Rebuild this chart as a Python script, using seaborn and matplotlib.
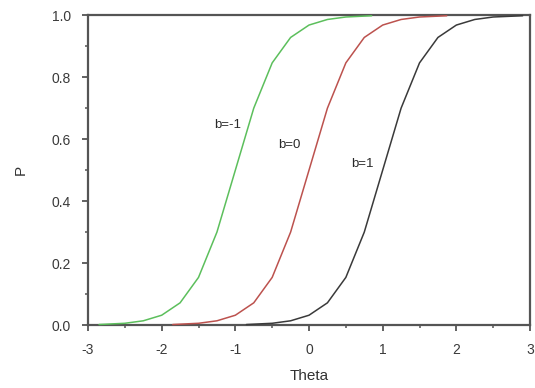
import pandas as pd
import seaborn as sns
import matplotlib.pyplot as plt
from matplotlib.ticker import MultipleLocator

# item characteristic curves
theta_bm1 = [-2.85, -2.5, -2.25, -2.0, -1.75, -1.5, -1.25, -1.0, -0.75, -0.5, -0.25, 0.0, 0.25, 0.5, 0.85]
p_bm1 = [0.002, 0.006, 0.014, 0.032, 0.072, 0.154, 0.30, 0.50, 0.70, 0.846, 0.928, 0.968, 0.986, 0.994, 0.998]

theta_b0 = [-1.85, -1.5, -1.25, -1.0, -0.75, -0.5, -0.25, 0.0, 0.25, 0.5, 0.75, 1.0, 1.25, 1.5, 1.87]
p_b0 = [0.002, 0.006, 0.014, 0.032, 0.072, 0.154, 0.30, 0.50, 0.70, 0.846, 0.928, 0.968, 0.986, 0.994, 0.998]

theta_b1 = [-0.85, -0.5, -0.25, 0.0, 0.25, 0.5, 0.75, 1.0, 1.25, 1.5, 1.75, 2.0, 2.25, 2.5, 2.9]
p_b1 = [0.002, 0.006, 0.014, 0.032, 0.072, 0.154, 0.30, 0.50, 0.70, 0.846, 0.928, 0.968, 0.986, 0.994, 0.998]

labels = ["b=-1", "b=0", "b=1"]
label_pos = [(-1.1, 0.645), (-0.27, 0.58), (0.72, 0.52)]
colors = ["#5cbf5c", "#bc524e", "#3a3a3a"]

df = pd.concat([
    pd.DataFrame({"Theta": theta_bm1, "P": p_bm1, "b": labels[0]}),
    pd.DataFrame({"Theta": theta_b0, "P": p_b0, "b": labels[1]}),
    pd.DataFrame({"Theta": theta_b1, "P": p_b1, "b": labels[2]}),
])

sns.set_style("ticks")
plt.rcParams['font.family'] = ['Liberation Sans', 'DejaVu Sans']

fig = plt.figure(figsize=(5.35, 3.88), dpi=100)
ax = fig.add_axes([0.1645, 0.162, 0.8262, 0.799])

sns.lineplot(data=df, x="Theta", y="P", hue="b", palette=colors,
             linewidth=1.1, legend=False, ax=ax, sort=False)
for line in ax.lines:
    line.set_clip_on(False)
    line.set_zorder(5)

for txt, (x, y) in zip(labels, label_pos):
    ax.text(x, y, txt, fontsize=9.5, color="#2a2a2a", ha="center", va="center")

ax.set_xlim(-3, 3)
ax.set_ylim(0, 1)
ax.xaxis.set_major_locator(MultipleLocator(1))
ax.xaxis.set_minor_locator(MultipleLocator(0.5))
ax.yaxis.set_major_locator(MultipleLocator(0.2))
ax.yaxis.set_minor_locator(MultipleLocator(0.1))
ax.yaxis.set_major_formatter(plt.FormatStrFormatter('%.1f'))
ax.xaxis.set_major_formatter(plt.FuncFormatter(lambda v, p: "%d" % v))

for s in ax.spines.values():
    s.set_visible(True)
    s.set_color("#555555")
    s.set_linewidth(1.6)

ax.tick_params(which="major", direction="out", length=4, width=1.3, color="#555555",
               labelsize=10, labelcolor="#3a3a3a", pad=8.5)
ax.tick_params(which="minor", direction="out", length=2.5, width=1.1, color="#555555")

ax.set_xlabel("Theta", fontsize=11, color="#333333", labelpad=9)
ax.set_ylabel("P", fontsize=11, color="#333333", labelpad=17)

plt.savefig("out.png", dpi=100)
